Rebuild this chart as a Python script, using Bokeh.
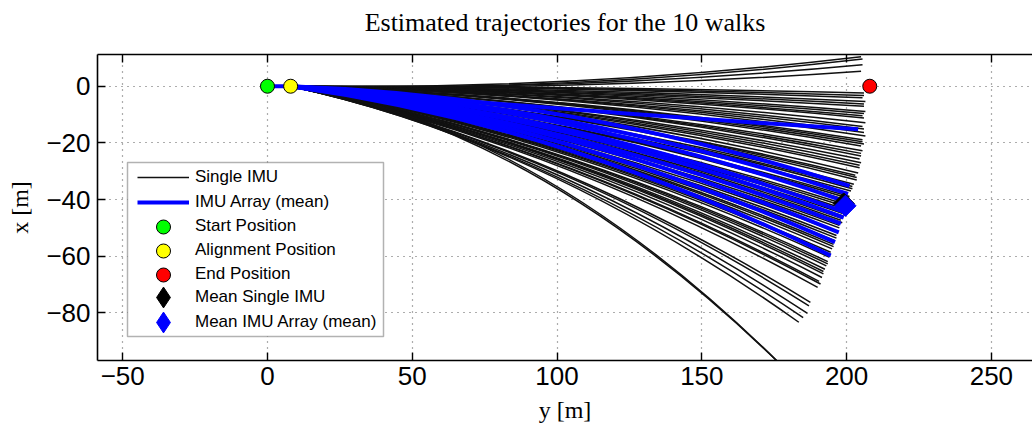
import math
from bokeh.plotting import figure
from bokeh.models import (Range1d, FixedTicker, LinearAxis, Legend, LegendItem,
                          BoxAnnotation, ColumnDataSource)
from bokeh.embed import file_html
from bokeh.resources import INLINE

# ---------------- data (plot horizontal = y [m], vertical = x [m]) ----------------
start_pos = [0.0, 0.0]
align_pos = [8.0, 0.0]
end_pos = [208.0, 0.0]
mean_single_pos = [199.0, -41.4]
mean_array_pos = [199.6, -42.2]

# Single IMU trajectories: end point (y, x) and x at the middle of the walk
single_end_y = [205.0, 205.5, 205.5, 205.0, 206.0, 206.0, 205.5, 206.5, 206.0, 206.0,
                206.5, 206.0, 205.5, 206.0, 206.5, 205.5, 206.0, 206.0, 206.5, 205.5,
                205.5, 206.0, 205.0, 205.5, 205.0, 205.0, 204.5, 205.0, 204.5, 204.5,
                204.0, 203.0, 203.5, 203.5, 202.5, 202.0, 202.0, 201.5, 201.0, 201.0,
                200.5, 200.0, 200.0, 199.5, 199.5, 199.0, 199.0, 198.5, 198.0, 198.5,
                197.5, 197.5, 197.0, 196.5, 196.5, 196.0, 195.5, 195.5, 195.0, 194.5,
                194.5, 194.0, 193.5, 193.5, 193.0, 192.5, 192.0, 192.0, 191.5, 190.5,
                191.0, 190.0, 187.5, 187.0, 186.5, 185.0, 183.5, 180.0, 179.0]
single_end_x = [10.4, 9.6, 7.6, 5.3, -2.4, -3.3, -4.1, -5.4, -6.3, -7.1,
                -8.9, -9.6, -10.4, -11.2, -12.9, -14.2, -15.1, -16.3, -17.6, -18.9,
                -19.6, -20.4, -21.1, -22.8, -23.7, -24.6, -25.7, -27.0, -27.9, -28.8,
                -30.6, -31.4, -32.2, -33.1, -34.6, -35.4, -36.2, -37.0, -38.9, -39.6,
                -40.3, -41.8, -42.6, -43.4, -44.1, -45.0, -45.9, -46.7, -47.3, -48.2,
                -49.1, -50.0, -51.6, -52.7, -53.6, -54.5, -55.8, -56.6, -57.4, -58.6,
                -59.4, -60.3, -61.9, -62.7, -63.4, -64.6, -65.4, -66.2, -67.5, -68.9,
                -69.8, -71.0, -76.3, -77.5, -80.2, -81.7, -83.3, -101.0, -100.0]
single_mid_x = [1.9, 1.4, 1.0, 0.4, -0.5, -0.8, -1.1, -1.6, -1.9, -2.3,
                -2.6, -3.0, -3.3, -3.5, -4.1, -4.4, -4.9, -5.2, -5.5, -6.3,
                -6.5, -6.8, -7.0, -7.9, -8.1, -8.3, -9.1, -9.4, -9.9, -10.2,
                -10.7, -11.5, -11.7, -11.9, -12.8, -13.0, -13.1, -13.9, -14.6, -14.8,
                -14.9, -15.8, -16.1, -16.4, -16.7, -17.0, -17.5, -17.8, -18.1, -18.4,
                -18.9, -19.3, -19.9, -20.3, -20.8, -21.2, -21.6, -21.9, -22.4, -22.8,
                -23.1, -23.5, -24.3, -24.5, -24.8, -25.4, -25.6, -25.9, -26.4, -26.9,
                -27.2, -27.6, -28.9, -29.2, -30.0, -30.4, -30.6, -32.5, -31.5]

# IMU array (mean) trajectories
array_end_y = [204.0, 201.0, 200.5, 200.5, 199.5, 199.0, 198.0, 197.3, 196.0, 194.5]
array_end_x = [-15.2, -35.2, -38.0, -41.0, -44.5, -46.4, -48.5, -51.6, -55.0, -59.8]
array_mid_x = [-8.3, -10.6, -12.4, -13.6, -15.4, -16.3, -17.8, -18.6, -20.0, -21.6]

x_ticks = [-50, 0, 50, 100, 150, 200, 250]
y_ticks = [-80, -60, -40, -20, 0]

title_text = "Estimated trajectories for the 10 walks"
labels = ["Single IMU", "IMU Array (mean)", "Start Position", "Alignment Position",
          "End Position", "Mean Single IMU", "Mean IMU Array (mean)"]


def curve_source(end_y, end_x, mid_x):
    n = len(end_y)
    h0 = [align_pos[0]] * n
    v0 = [align_pos[1]] * n
    hc = [(align_pos[0] + e) / 2 for e in end_y]
    vc = [2 * m - 0.5 * (align_pos[1] + e) for m, e in zip(mid_x, end_x)]
    return ColumnDataSource(dict(h0=h0, v0=v0, h1=end_y, v1=end_x, hc=hc, vc=vc))


def fmt(v):
    return ("\u2212" + str(-v)) if v < 0 else str(v)


p = figure(width=1032, height=427, output_backend="svg", toolbar_location=None,
           x_range=Range1d(-58.7, 264.2), y_range=Range1d(-96.8, 11.2),
           min_border_left=97, min_border_right=0, min_border_top=54, min_border_bottom=67)
p.outline_line_color = None
p.background_fill_color = "white"
p.title.text = ""
p.title.visible = False

# axes
for ax, ticks in ((p.xaxis[0], x_ticks), (p.yaxis[0], y_ticks)):
    ax.ticker = FixedTicker(ticks=ticks)
    ax.major_label_overrides = {t: fmt(t) for t in ticks}
    ax.major_label_text_font = "Liberation Sans"
    ax.major_label_text_font_size = "26px"
    ax.major_label_text_color = "black"
    ax.major_tick_in = 8
    ax.major_tick_out = 0
    ax.minor_tick_in = 0
    ax.minor_tick_out = 0
    ax.axis_line_color = "black"
    ax.axis_line_width = 1.6
    ax.major_tick_line_color = "black"
    ax.major_tick_line_width = 1.4
    ax.axis_label_text_font = "Liberation Serif"
    ax.axis_label_text_font_style = "normal"
    ax.axis_label_text_font_size = "24px"
    ax.axis_label_text_color = "black"
p.xaxis[0].major_label_standoff = 6
p.yaxis[0].major_label_standoff = 7
p.xaxis[0].axis_label = "y [m]"
p.xaxis[0].axis_label_standoff = 9
p.yaxis[0].axis_label = "x [m]"
p.yaxis[0].axis_label_standoff = 10

# top axis (box edge) carrying the chart title
top_axis = LinearAxis(ticker=FixedTicker(ticks=x_ticks), major_tick_in=8, major_tick_out=0,
                      minor_tick_in=0, minor_tick_out=0, axis_line_color="black",
                      axis_line_width=1.6, major_tick_line_color="black",
                      major_tick_line_width=1.4, major_label_text_alpha=0,
                      major_label_text_font_size="1px", major_label_standoff=0,
                      axis_label=title_text, axis_label_standoff=18,
                      axis_label_text_font="Liberation Serif",
                      axis_label_text_font_style="normal",
                      axis_label_text_font_size="26px", axis_label_text_color="black")
p.add_layout(top_axis, "above")

for g, ticks in ((p.xgrid[0], x_ticks), (p.ygrid[0], y_ticks)):
    g.ticker = FixedTicker(ticks=ticks)
    g.grid_line_color = "#5a5a5a"
    g.grid_line_dash = "1 5"
    g.grid_line_width = 1.2

# trajectories
src_single = curve_source(single_end_y, single_end_x, single_mid_x)
src_array = curve_source(array_end_y, array_end_x, array_mid_x)

r_single = p.quadratic(x0="h0", y0="v0", x1="h1", y1="v1", cx="hc", cy="vc",
                       source=src_single, line_color="#111111", line_width=1.5)
p.line(x=[start_pos[0], align_pos[0]], y=[start_pos[1], align_pos[1]],
       line_color="blue", line_width=4)
r_array = p.quadratic(x0="h0", y0="v0", x1="h1", y1="v1", cx="hc", cy="vc",
                      source=src_array, line_color="blue", line_width=4)

r_start = p.scatter(x=[start_pos[0]], y=[start_pos[1]], marker="circle", size=14,
                    fill_color="#00ff00", line_color="black", line_width=1)
r_align = p.scatter(x=[align_pos[0]], y=[align_pos[1]], marker="circle", size=14,
                    fill_color="#ffff00", line_color="black", line_width=1)
r_end = p.scatter(x=[end_pos[0]], y=[end_pos[1]], marker="circle", size=14,
                  fill_color="#ff0000", line_color="black", line_width=1)

# legend proxies (diamond shape, hidden under the plotted means)
r_ms_leg = p.scatter(x=[mean_single_pos[0]], y=[mean_single_pos[1]], marker="diamond", size=1,
                     fill_color="black", line_color="black")
r_ma_leg = p.scatter(x=[mean_array_pos[0]], y=[mean_array_pos[1]], marker="diamond", size=1,
                     fill_color="blue", line_color="blue")
p.scatter(x=[mean_single_pos[0]], y=[mean_single_pos[1]], marker="square", angle=math.pi / 4,
          size=15, fill_color="black", line_color="black")
p.scatter(x=[mean_array_pos[0]], y=[mean_array_pos[1]], marker="square", angle=math.pi / 4,
          size=15, fill_color="blue", line_color="blue")

# legend box
box = BoxAnnotation(left=30, right=286, bottom=24, top=198,
                    left_units="screen", right_units="screen",
                    bottom_units="screen", top_units="screen",
                    fill_color="white", fill_alpha=1.0, line_color="black", line_width=1.5)
p.add_layout(box)

# one legend per row (row centres 24 px apart)
rows = [(labels[0], r_single, 20, 163.3),
        (labels[1], r_array, 20, 138.3),
        (labels[2], r_start, 35, 106.5),
        (labels[3], r_align, 35, 82.5),
        (labels[4], r_end, 35, 58.5),
        (labels[5], r_ms_leg, 52, 26.7),
        (labels[6], r_ma_leg, 52, 2.3)]
for text, rend, gh, ybot in rows:
    leg = Legend(items=[LegendItem(label=text, renderers=[rend])],
                 location=(30, ybot), glyph_width=52, glyph_height=gh, label_height=gh,
                 padding=10, label_standoff=6, margin=0, spacing=0,
                 border_line_alpha=0, background_fill_alpha=0,
                 label_text_font="Liberation Sans", label_text_font_size="17px",
                 label_text_color="black")
    p.add_layout(leg)

open("out.html", "w").write(file_html(p, INLINE))
